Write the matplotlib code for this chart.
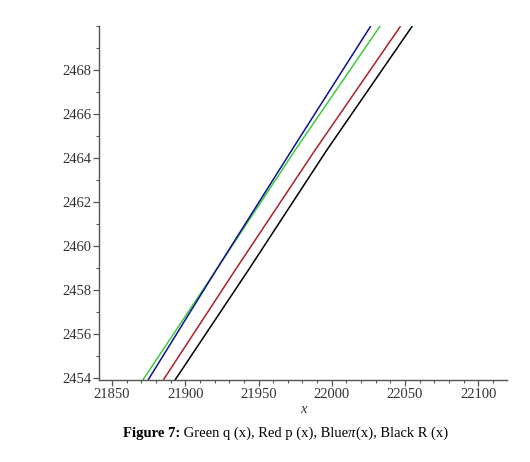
import matplotlib
matplotlib.use("Agg")
import matplotlib.pyplot as plt
from matplotlib.ticker import MultipleLocator

# y levels at which the curves were read
y_levels = [2453.91, 2458.9, 2464.36, 2470.0]
# x positions of each curve at those levels
x_green = [21871, 21921, 21975, 22033]
x_blue = [21874.6, 21921, 21972.7, 22026.6]
x_red = [21885, 21934, 21988.6, 22047]
x_black = [21893, 21943, 21996.6, 22055]

series = [
    ("q(x)", x_green, "#3ccc3c"),
    ("pi(x)", x_blue, "#101090"),
    ("p(x)", x_red, "#b02020"),
    ("R(x)", x_black, "#000000"),
]

x_ticks = [21850, 21900, 21950, 22000, 22050, 22100]
y_ticks = [2454, 2456, 2458, 2460, 2462, 2464, 2466, 2468]

plt.rcParams['font.family'] = ['Liberation Serif', 'DejaVu Serif']

fig = plt.figure(figsize=(5.30, 4.62), dpi=100)
ax = fig.add_axes([99/530, 1-380/462, (507-99)/530, (380-26)/462])

for name, xs, c in series:
    ax.plot(xs, y_levels, color=c, lw=1.1, solid_capstyle='butt')

ax.set_xlim(21841.1, 22119.6)
ax.set_ylim(2453.91, 2470.0)
ax.set_xticks(x_ticks)
ax.set_yticks(y_ticks)
ax.set_xticklabels([str(v) for v in x_ticks])
ax.set_yticklabels([str(v) for v in y_ticks])
ax.xaxis.set_minor_locator(MultipleLocator(10))
ax.yaxis.set_minor_locator(MultipleLocator(1))

for s in ['top', 'right']:
    ax.spines[s].set_visible(False)
for s in ['left', 'bottom']:
    ax.spines[s].set_color('#555555')
    ax.spines[s].set_linewidth(1.0)

ax.tick_params(which='major', length=4, width=0.9, color='#555555',
               labelsize=10.5, labelcolor='#333333', pad=1.5)
ax.tick_params(which='minor', length=2.5, width=0.8, color='#555555')

ax.set_xlabel('x', fontstyle='italic', fontsize=10.5, color='#333333', labelpad=2)

# caption with mixed styles
fig.canvas.draw()
renderer = fig.canvas.get_renderer()
parts = [
    ("Figure 7:", dict(fontweight='bold')),
    (" Green q (x), Red p (x), Blue", dict()),
    ("\u03c0", dict(fontstyle='italic')),
    ("(x), Black R (x)", dict()),
]
x0 = 123
ypix = 462 - 437
cur = x0
for txt, kw in parts:
    t = fig.text(cur/530, ypix/462, txt, fontsize=10.5, color='black',
                 ha='left', va='baseline', **kw)
    bb = t.get_window_extent(renderer=renderer)
    cur = bb.x1

fig.savefig("out.png", dpi=100)
